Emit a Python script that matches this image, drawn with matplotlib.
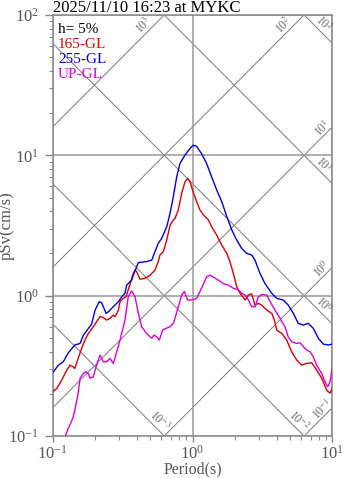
import numpy as np
import matplotlib
matplotlib.use("Agg")
import matplotlib.pyplot as plt
from matplotlib.ticker import LogLocator, NullFormatter

plt.rcParams['font.family'] = ['Liberation Serif', 'DejaVu Serif']
plt.rcParams['mathtext.fontset'] = 'stix'

title = "2025/11/10 16:23 at MYKC"
damping = "h= 5%"

# pseudo velocity response, 165-GL
t_165 = [0.100, 0.107, 0.116, 0.126, 0.133, 0.140, 0.144, 0.152, 0.161, 0.170, 0.180, 0.195,
         0.206, 0.218, 0.230, 0.243, 0.257, 0.271, 0.279, 0.295, 0.303, 0.320, 0.335, 0.353,
         0.377, 0.388, 0.399, 0.421, 0.457, 0.497, 0.539, 0.569, 0.585, 0.618, 0.654, 0.691,
         0.729, 0.750, 0.791, 0.837, 0.884, 0.924, 0.960, 1.01, 1.07, 1.13, 1.20, 1.30, 1.37,
         1.49, 1.62, 1.76, 1.85, 1.96, 2.07, 2.19, 2.38, 2.51, 2.65, 2.80, 2.96, 3.13, 3.40,
         3.69, 3.85, 4.00, 4.35, 4.72, 5.12, 5.56, 6.04, 6.56, 7.12, 7.73, 8.40, 9.12, 9.63, 10.0]
sv_165 = [0.207, 0.218, 0.250, 0.295, 0.320, 0.311, 0.303, 0.357, 0.421, 0.483, 0.538, 0.600,
          0.652, 0.708, 0.700, 0.670, 0.689, 0.728, 0.708, 0.789, 0.906, 0.957, 0.982, 1.16,
          1.44, 1.52, 1.48, 1.31, 1.33, 1.40, 1.52, 1.75, 1.95, 2.06, 2.49, 3.18,
          3.46, 3.56, 4.08, 5.36, 6.49, 6.86, 6.49, 5.50, 4.67, 4.08, 3.75, 3.46, 3.10,
          2.70, 2.29, 2.00, 1.75, 1.44, 1.16, 1.04, 0.931, 1.01, 1.03, 0.857, 0.881, 0.857, 0.789,
          0.748, 0.670, 0.569, 0.538, 0.483, 0.398, 0.348, 0.320, 0.329, 0.333, 0.295, 0.258,
          0.212, 0.202, 0.219]

# 255-GL
t_255 = [0.100, 0.110, 0.119, 0.129, 0.144, 0.157, 0.166, 0.190, 0.201, 0.215, 0.224, 0.241,
         0.250, 0.271, 0.295, 0.312, 0.329, 0.338, 0.367, 0.377, 0.399, 0.410, 0.470, 0.511,
         0.539, 0.569, 0.602, 0.654, 0.691, 0.729, 0.771, 0.814, 0.884, 0.960, 1.01, 1.07,
         1.16, 1.26, 1.37, 1.49, 1.62, 1.76, 1.91, 2.07, 2.25, 2.44, 2.65, 2.80, 3.04, 3.30,
         3.69, 4.00, 4.46, 4.84, 5.26, 5.71, 6.20, 6.73, 7.31, 7.94, 8.62, 9.36, 10.0]
sv_255 = [0.282, 0.320, 0.338, 0.390, 0.445, 0.457, 0.524, 0.628, 0.789, 0.906, 0.889, 0.748,
          0.768, 0.834, 0.906, 0.982, 1.04, 1.19, 1.29, 1.40, 1.61, 1.72, 1.75, 1.79,
          2.06, 2.36, 2.56, 3.10, 3.86, 5.07, 7.03, 8.77, 10.05, 11.2, 11.8, 11.6,
          10.3, 8.77, 7.03, 5.66, 4.67, 3.65, 2.94, 2.49, 2.17, 2.00, 1.95, 1.79, 1.44, 1.22,
          1.04, 0.957, 0.931, 0.857, 0.748, 0.635, 0.617, 0.635, 0.585, 0.497, 0.452, 0.445, 0.452]

# UP-GL
t_up = [0.1225, 0.129, 0.139, 0.144, 0.152, 0.157, 0.166, 0.173, 0.180, 0.185, 0.195, 0.206,
        0.218, 0.230, 0.243, 0.257, 0.271, 0.287, 0.303, 0.320, 0.329, 0.347, 0.367, 0.388,
        0.410, 0.421, 0.433, 0.470, 0.511, 0.530, 0.555, 0.579, 0.612, 0.646, 0.691, 0.729,
        0.750, 0.791, 0.837, 0.874, 0.924, 0.985, 1.07, 1.16, 1.26, 1.33, 1.41, 1.53, 1.66,
        1.80, 1.96, 2.13, 2.25, 2.38, 2.51, 2.65, 2.80, 2.96, 3.13, 3.40, 3.59, 3.89, 4.16,
        4.30, 4.59, 4.84, 5.12, 5.56, 5.88, 6.20, 6.56, 6.93, 7.31, 7.73, 8.40, 8.87, 9.27, 9.63, 10.0]
sv_up = [0.0987, 0.113, 0.133, 0.153, 0.201, 0.258, 0.279, 0.287, 0.279, 0.258, 0.264, 0.320,
         0.377, 0.338, 0.338, 0.357, 0.329, 0.398, 0.483, 0.600, 0.670, 0.982, 1.08, 0.982,
         0.748, 0.670, 0.600, 0.538, 0.497, 0.524, 0.509, 0.483, 0.569, 0.585, 0.600, 0.635,
         0.692, 0.834, 1.01, 1.07, 0.931, 0.931, 0.957, 1.13, 1.36, 1.40, 1.36, 1.29, 1.22,
         1.19, 1.13, 1.10, 1.04, 1.01, 0.931, 0.834, 0.834, 0.982, 1.02, 1.01, 0.906, 0.789, 0.708,
         0.670, 0.600, 0.509, 0.469, 0.457, 0.462, 0.433, 0.409, 0.398, 0.367, 0.320, 0.279,
         0.243, 0.224, 0.243, 0.303]

series = [("165-GL", t_165, sv_165, "#dd0000"),
          ("255-GL", t_255, sv_255, "#0000dd"),
          ("UP-GL", t_up, sv_up, "#dd00dd")]

# tripartite guide lines: constant Sa (cm/s^2) and constant Sd (cm)
acc_levels = [1e-1, 1e0, 1e1, 1e2, 1e3]
acc_labels = [r"$10^{-1}$", r"$10^{0}$", r"$10^{1}$", r"$10^{2}$", r"$10^{3}$"]
disp_levels = [1e-2, 1e-1, 1e0, 1e1, 1e2]
disp_labels = [r"$10^{-3}$", r"$10^{-2}$", r"$10^{0}$", r"$10^{1}$", r"$10^{2}$"]

t_min, t_max = 0.1, 10.0
v_min, v_max = 0.1, 100.0
two_pi = 2 * np.pi

fig = plt.figure(figsize=(3.47, 4.78), dpi=100)
ax = fig.add_axes([52.7 / 347, 42 / 478, 279.6 / 347, 421 / 478])
ax.set_xscale('log')
ax.set_yscale('log')
ax.set_xlim(t_min, t_max)
ax.set_ylim(v_min, v_max)

guide = '#7a7a7a'
lab_col = '#666666'
tt = np.array([t_min, t_max])

for a, lab in zip(acc_levels, acc_labels):
    ax.plot(tt, a * tt / two_pi, color=guide, lw=0.7, zorder=1)
    # label just before the line leaves the frame
    if a * t_max / two_pi <= v_max:
        xy, off = (t_max, a * t_max / two_pi), (-10, -2)
    else:
        xy, off = (two_pi * v_max / a, v_max), (-20, -10)
    ax.annotate(lab, xy=xy, xytext=off, textcoords='offset pixels', rotation=45,
                ha='center', va='center', fontsize=8.5, color=lab_col, annotation_clip=False)

for d, lab in zip(disp_levels, disp_labels):
    ax.plot(tt, two_pi * d / tt, color=guide, lw=0.7, zorder=1)
    if two_pi * d / t_max >= v_min:
        xy, off = (t_max, two_pi * d / t_max), (-9, 19)
    else:
        xy, off = (two_pi * d / v_min, v_min), (-5, 15)
    ax.annotate(lab, xy=xy, xytext=off, textcoords='offset pixels', rotation=-45,
                ha='center', va='center', fontsize=8.5, color=lab_col, annotation_clip=False)

for name, t, sv, col in series:
    ax.plot(t, sv, color=col, lw=1.0, zorder=3)

ax.grid(True, which='major', color='#999999', lw=1.1, zorder=2)
for s in ax.spines.values():
    s.set_color('#888888')
    s.set_linewidth(1.1)

ax.xaxis.set_minor_locator(LogLocator(base=10, subs=np.arange(2, 10)))
ax.yaxis.set_minor_locator(LogLocator(base=10, subs=np.arange(2, 10)))
ax.xaxis.set_minor_formatter(NullFormatter())
ax.yaxis.set_minor_formatter(NullFormatter())
ax.tick_params(which='major', direction='out', length=6, width=1.0, color='#888888',
               labelsize=12, labelcolor='#555555', pad=4)
ax.tick_params(axis='x', which='major', length=4, pad=2)
ax.tick_params(which='minor', direction='out', length=3, width=0.8, color='#888888')

ax.set_xlabel("Period(s)", fontsize=11.5, color='#555555')
ax.set_ylabel("pSv(cm/s)", fontsize=12, color='#555555')
ax.xaxis.set_label_coords(0.5, -0.06)
ax.yaxis.set_label_coords(-0.135, 0.5)

fig.text(52.7 / 347, 1 - 12 / 478, title, fontsize=12, color='black', va='baseline', ha='left')

ax.text(0.019, 0.957, damping, transform=ax.transAxes, fontsize=11, color='black', va='baseline')
for i, (name, t, sv, col) in enumerate(series):
    ax.text(0.019, 0.957 - (i + 1) * 0.0352, name, transform=ax.transAxes,
            fontsize=11, color=col, va='baseline')

fig.savefig("out.png", dpi=100)
